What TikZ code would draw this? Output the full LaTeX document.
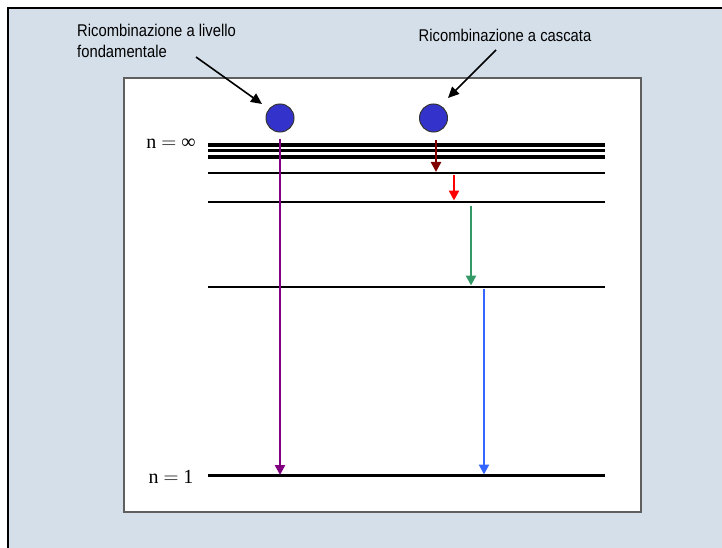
\documentclass[tikz,border=0pt]{standalone}
\usepackage{fontspec}
\setmainfont{Liberation Serif}
\newfontfamily\labfont[FakeStretch=0.87]{Liberation Sans}
\usetikzlibrary{arrows.meta}
\definecolor{bgblue}{HTML}{D4DFEA}
\definecolor{ballblue}{HTML}{3333CC}
\definecolor{tpurple}{HTML}{800080}
\definecolor{tmaroon}{HTML}{800000}
\definecolor{tred}{HTML}{FF0000}
\definecolor{tgreen}{HTML}{339966}
\definecolor{tblue}{HTML}{3366FF}
\definecolor{boxgray}{HTML}{5F5F5F}
\begin{document}
\begin{tikzpicture}[x=1pt,y=-1pt,
  levelthick/.style={line width=3.2pt},
  levelthin/.style={line width=2.6pt},
  trans/.style={line width=2.4pt,-{Triangle[length=10pt,width=10pt]}},
  callout/.style={line width=1.6pt,-{Triangle[length=11pt,width=10pt]}},
  ball/.style={circle,minimum size=28pt,inner sep=0pt,fill=ballblue,draw=black!80,line width=1pt},
  lab/.style={font=\labfont\fontsize{17}{21}\selectfont,inner sep=0pt},
  nlab/.style={font=\fontsize{20}{22}\selectfont,inner sep=0pt}]
\useasboundingbox (0,0) rectangle (722,548);
\fill[white] (0,0) rectangle (722,548);
\begin{scope}
\clip (0,0) rectangle (722,548);
\draw[fill=bgblue,line width=2.5pt] (8,8) rectangle (740,570);
\end{scope}
\draw[fill=white,draw=boxgray,line width=1.8pt] (124,78) rectangle (641,512);
% levels
\draw[levelthick] (208,145) -- (605,145);
\draw[levelthick] (208,150.5) -- (605,150.5);
\draw[levelthick] (208,157) -- (605,157);
\draw[levelthin] (208,173) -- (605,173);
\draw[levelthin] (208,202) -- (605,202);
\draw[levelthin] (208,287) -- (605,287);
\draw[levelthin] (208,475.5) -- (605,475.5);
\node[nlab] (ninf) at (171,144) {n $=$ ∞};
\node[nlab] (none) at (171,477) {n $=$ 1};
% balls
\node[ball] (b1) at (280,118) {};
\node[ball] (b2) at (433.5,118) {};
% labels
\node[lab,anchor=north west,align=left] (t1) at (77,24) {Ricombinazione a livello\\fondamentale};
\node[lab] (t2) at (505,35) {Ricombinazione a cascata};
\coordinate (c1s) at (196,57);
\coordinate (c1e) at (262,104);
\coordinate (c2s) at (496,50);
\coordinate (c2e) at (448,98);
\draw[callout] (c1s) -- (c1e);
\draw[callout] (c2s) -- (c2e);
% transitions
\coordinate (p1) at (280,139); \coordinate (p2) at (280,475);
\coordinate (m1) at (436,140); \coordinate (m2) at (436,172);
\coordinate (r1) at (454,175); \coordinate (r2) at (454,200.5);
\coordinate (g1) at (471,206); \coordinate (g2) at (471,285.5);
\coordinate (u1) at (484,289); \coordinate (u2) at (484,474.5);
\draw[trans,tpurple] (p1) -- (p2);
\draw[trans,tmaroon] (m1) -- (m2);
\draw[trans,tred] (r1) -- (r2);
\draw[trans,tgreen] (g1) -- (g2);
\draw[trans,tblue] (u1) -- (u2);
\end{tikzpicture}
\end{document}
